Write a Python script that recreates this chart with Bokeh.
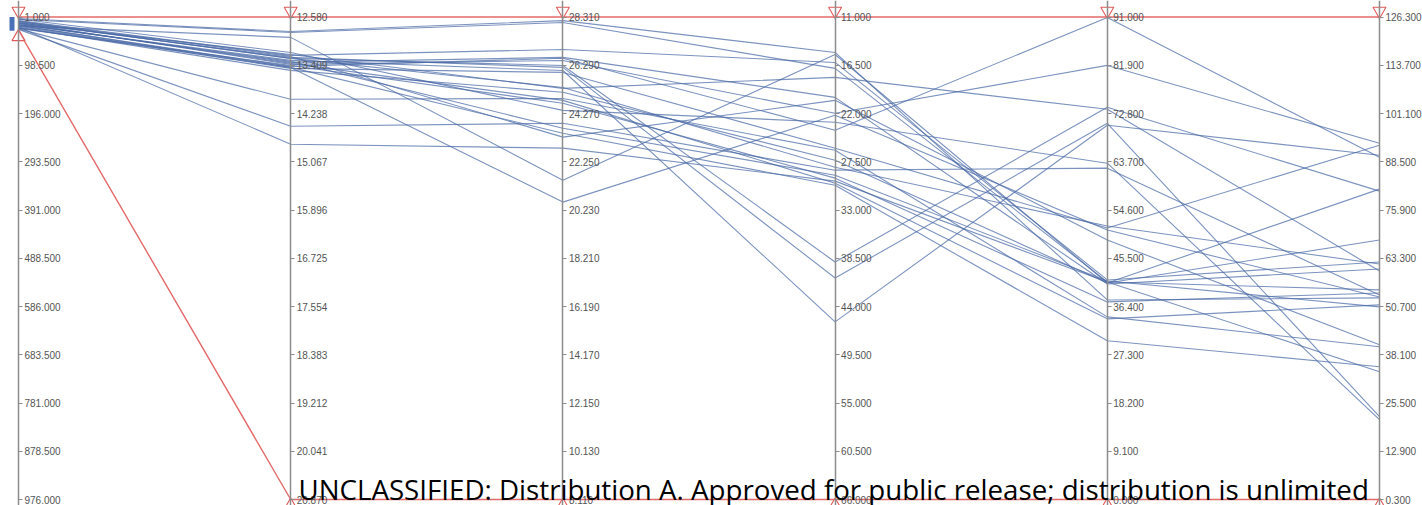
import numpy as np
from bokeh.plotting import figure
from bokeh.models import Range1d, LinearAxis, FixedTicker, PrintfTickFormatter, Label
from bokeh.embed import file_html
from bokeh.resources import INLINE

# ---- axis definitions (value at top of axis, value at bottom of axis)
axis_top = [1.0, 12.58, 28.31, 11.0, 91.0, 126.3]
axis_bottom = [976.0, 20.87, 8.11, 66.0, 0.0, 0.3]

# tick labels per axis
ticks_1 = [1.0, 98.5, 196.0, 293.5, 391.0, 488.5, 586.0, 683.5, 781.0, 878.5, 976.0]
ticks_2 = [12.58, 13.409, 14.238, 15.067, 15.896, 16.725, 17.554, 18.383, 19.212, 20.041, 20.87]
ticks_3 = [28.31, 26.29, 24.27, 22.25, 20.23, 18.21, 16.19, 14.17, 12.15, 10.13, 8.11]
ticks_4 = [11.0, 16.5, 22.0, 27.5, 33.0, 38.5, 44.0, 49.5, 55.0, 60.5, 66.0]
ticks_5 = [91.0, 81.9, 72.8, 63.7, 54.6, 45.5, 36.4, 27.3, 18.2, 9.1, 0.0]
ticks_6 = [126.3, 113.7, 101.1, 88.5, 75.9, 63.3, 50.7, 38.1, 25.5, 12.9, 0.3]
all_ticks = [ticks_1, ticks_2, ticks_3, ticks_4, ticks_5, ticks_6]

# brushed filter range on each axis
filter_top = [1.0, 12.58, 28.31, 11.0, 91.0, 126.3]
filter_bottom = [29.0, 20.87, 8.11, 66.0, 0.0, 0.3]

# ---- data: one value per record on each of the six dimensions
dim_1 = [6, 4, 10, 12, 16, 8, 14, 18, 12, 20, 10, 22, 16, 14, 24, 5, 18, 25, 26, 21, 19, 23, 13, 9]
dim_2 = [12.846, 12.829, 13.292, 13.274, 13.326, 13.240, 13.360, 13.429, 13.394, 13.463,
         13.291, 13.497, 13.343, 13.377, 13.412, 13.189, 13.446, 13.994, 14.457, 14.766,
         12.930, 13.446, 13.223, 13.257]
dim_3 = [28.08, 28.16, 26.28, 26.20, 26.07, 26.95, 26.62, 26.58, 26.49, 25.99,
         25.36, 25.16, 23.65, 24.82, 24.70, 24.40, 23.44, 24.90, 23.86, 22.82,
         21.48, 20.56, 25.32, 23.28]
dim_4 = [16.86, 15.04, 38.93, 40.75, 45.75, 16.18, 20.16, 23.91, 21.98, 25.96,
         28.12, 27.32, 29.03, 29.94, 29.37, 23.00, 30.17, 26.19, 28.46, 29.71,
         15.27, 22.20, 17.88, 20.50]
dim_5 = [41.03, 37.64, 73.97, 70.96, 70.58, 41.41, 40.65, 90.90, 81.87, 51.19,
         51.57, 40.84, 41.22, 34.07, 37.27, 63.43, 29.93, 34.44, 62.49, 41.03,
         40.84, 50.82, 73.59, 48.93]
dim_6 = [55.03, 52.94, 80.83, 21.93, 90.21, 62.32, 60.50, 89.69, 93.33, 92.81,
         61.80, 68.06, 50.60, 51.12, 54.24, 21.15, 34.96, 40.17, 53.72, 33.66,
         81.35, 53.20, 59.98, 40.69]
dims = [dim_1, dim_2, dim_3, dim_4, dim_5, dim_6]

watermark = "UNCLASSIFIED: Distribution A. Approved for public release; distribution is unlimited"

# ---- layout constants
W, H = 1422, 505
PX = 272.2          # pixels between adjacent axes
LEFT = 18.0         # first axis offset from left edge (px)
TOP = 16.5          # axis top from figure top (px)
BOT = 499.0         # axis bottom from figure top (px)
SPAN = BOT - TOP
y_start = -(H - BOT) / SPAN
y_end = 1.0 + TOP / SPAN

n_axes = len(axis_top)
top = np.array(axis_top)
bot = np.array(axis_bottom)


def norm(i, v):
    return (np.asarray(v, dtype=float) - bot[i]) / (top[i] - bot[i])


p = figure(width=W, height=H, output_backend="svg", toolbar_location=None,
           x_range=Range1d(-LEFT / PX, (W - LEFT) / PX),
           y_range=Range1d(y_start, y_end),
           x_axis_location=None, y_axis_location=None,
           min_border=0, outline_line_color=None)
p.xgrid.visible = False
p.ygrid.visible = False
p.background_fill_color = "white"
p.border_fill_color = "white"

xs_axes = list(range(n_axes))

# polylines
norm_dims = [norm(i, dims[i]) for i in range(n_axes)]
n_rec = len(dim_1)
xs = [xs_axes for _ in range(n_rec)]
ys = [[float(norm_dims[i][r]) for i in range(n_axes)] for r in range(n_rec)]
p.multi_line(xs, ys, line_color="#4a69a6", line_alpha=0.72, line_width=1.1)

# brush indicator on first axis
p.quad(left=[-9 / PX], right=[-4 / PX],
       top=[float(norm(0, filter_top[0]))], bottom=[float(norm(0, filter_bottom[0]))],
       fill_color="#4a70b8", line_color=None)

# filter lines
ft = [float(norm(i, filter_top[i])) for i in range(n_axes)]
fb = [float(norm(i, filter_bottom[i])) for i in range(n_axes)]
p.line(xs_axes, ft, line_color="#e46a6a", line_width=1.4)
p.line(xs_axes, fb, line_color="#e46a6a", line_width=1.4)

off = 6.0 / SPAN
p.scatter(xs_axes, [v + off for v in ft], marker="inverted_triangle", size=13,
          line_color="#e05a5a", fill_color="white", fill_alpha=0.6, line_width=1.1)
p.scatter(xs_axes, [v - off for v in fb], marker="triangle", size=13,
          line_color="#e05a5a", fill_color="white", fill_alpha=0.6, line_width=1.1)

# parallel axes
for i in range(n_axes):
    name = f"ax{i}"
    p.extra_y_ranges[name] = Range1d(bot[i] + y_start * (top[i] - bot[i]),
                                     bot[i] + y_end * (top[i] - bot[i]))
    ax = LinearAxis(y_range_name=name, fixed_location=i,
                    ticker=FixedTicker(ticks=all_ticks[i]),
                    formatter=PrintfTickFormatter(format="%.3f"),
                    axis_line_color="#8c8c8c", axis_line_width=1.5,
                    major_tick_line_color="#8c8c8c", major_tick_in=0, major_tick_out=4,
                    minor_tick_line_color=None,
                    major_label_text_font="Liberation Sans",
                    major_label_text_font_size="10px",
                    major_label_text_color="#555555",
                    major_label_standoff=2)
    p.add_layout(ax, "right")

p.add_layout(Label(x=(298 - LEFT) / PX, y=(BOT - 488.0) / SPAN, text=watermark,
                   text_font="Open Sans", text_font_size="27.7px", text_color="black",
                   text_baseline="alphabetic"))

open("out.html", "w").write(file_html(p, INLINE))
